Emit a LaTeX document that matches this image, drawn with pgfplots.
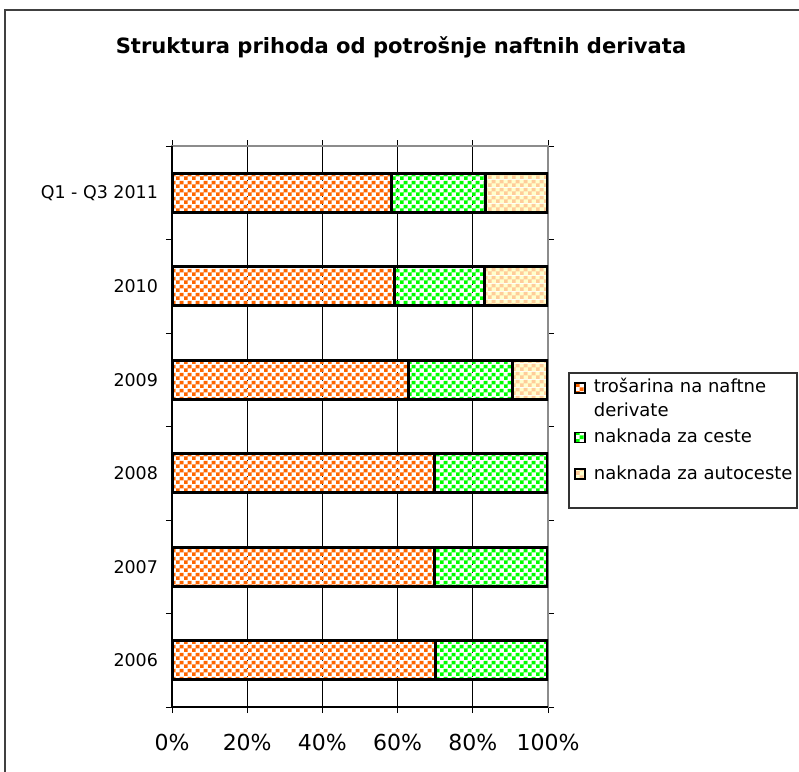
\documentclass[border=0pt]{standalone}
\usepackage{pgfplots}
\pgfplotsset{compat=1.18}
\usepackage{fontspec}
\setmainfont{DejaVu Sans}
\usetikzlibrary{patterns}

\definecolor{trosorange}{HTML}{FF6600}
\definecolor{cestegreen}{HTML}{00FF00}
\definecolor{autopeach}{HTML}{FFCC99}
\definecolor{autoyellow}{HTML}{FFFFCC}

% two-colour checkerboards, squares of 3pt
\pgfdeclarepatterninherentlycolored{chkorange}{\pgfpointorigin}{\pgfqpoint{6pt}{6pt}}{\pgfqpoint{6pt}{6pt}}{%
  \pgfsetfillcolor{white}\pgfpathrectangle{\pgfpointorigin}{\pgfqpoint{6pt}{6pt}}\pgfusepath{fill}%
  \pgfsetfillcolor{trosorange}%
  \pgfpathrectangle{\pgfpointorigin}{\pgfqpoint{3pt}{3pt}}%
  \pgfpathrectangle{\pgfqpoint{3pt}{3pt}}{\pgfqpoint{3pt}{3pt}}\pgfusepath{fill}}
\pgfdeclarepatterninherentlycolored{chkgreen}{\pgfpointorigin}{\pgfqpoint{6pt}{6pt}}{\pgfqpoint{6pt}{6pt}}{%
  \pgfsetfillcolor{white}\pgfpathrectangle{\pgfpointorigin}{\pgfqpoint{6pt}{6pt}}\pgfusepath{fill}%
  \pgfsetfillcolor{cestegreen}%
  \pgfpathrectangle{\pgfpointorigin}{\pgfqpoint{3pt}{3pt}}%
  \pgfpathrectangle{\pgfqpoint{3pt}{3pt}}{\pgfqpoint{3pt}{3pt}}\pgfusepath{fill}}
\pgfdeclarepatterninherentlycolored{chkpeach}{\pgfpointorigin}{\pgfqpoint{6pt}{6pt}}{\pgfqpoint{6pt}{6pt}}{%
  \pgfsetfillcolor{autoyellow}\pgfpathrectangle{\pgfpointorigin}{\pgfqpoint{6pt}{6pt}}\pgfusepath{fill}%
  \pgfsetfillcolor{autopeach}%
  \pgfpathrectangle{\pgfpointorigin}{\pgfqpoint{3pt}{3pt}}%
  \pgfpathrectangle{\pgfqpoint{3pt}{3pt}}{\pgfqpoint{3pt}{3pt}}\pgfusepath{fill}}

\begin{document}
\begin{tikzpicture}
\useasboundingbox (0pt,0pt) rectangle (599.25pt,-578.25pt);
% outer chart frame (cut at right and bottom)
\draw[line width=1pt, black!75] (3.75pt,-580pt) -- (3.75pt,-7.5pt) -- (602pt,-7.5pt);
\node[font=\bfseries\fontsize{15.8}{19}\selectfont] at (300.75pt,-35.25pt)
  {Struktura prihoda od potrošnje naftnih derivata};

\begin{axis}[
    at={(129pt,-530.25pt)}, anchor=south west,
    width=282pt, height=420.75pt, scale only axis,
    xbar stacked,
    bar width=29.25pt,
    xmin=0, xmax=100,
    ymin=-0.5, ymax=5.5,
    xtick={0,20,40,60,80,100},
    xticklabels={0\%,20\%,40\%,60\%,80\%,100\%},
    xticklabel style={font=\fontsize{16.5}{20}\selectfont, yshift=-12pt},
    xmajorgrids,
    major grid style={black, line width=0.6pt},
    ytick={-0.5,0.5,...,5.5},
    yticklabels={{},{},{},{},{},{},{}},
    extra y ticks={0,1,2,3,4,5},
    extra y tick labels={2006,2007,2008,2009,2010,Q1 - Q3 2011},
    extra y tick style={major tick length=0pt, grid=none,
      yticklabel style={font=\fontsize{13.1}{15}\selectfont, xshift=-7pt}},
    tick align=outside,
    major tick length=4.5pt,
    tick style={black, line width=0.6pt},
    axis line style={black!45, line width=0.8pt},
    after end axis/.code={
      \draw[black, line width=0.8pt] (rel axis cs:0,1) -- (rel axis cs:0,0) -- (rel axis cs:1,0);
    },
    legend image code/.code={\draw[#1, line width=1.2pt] (0pt,0pt) rectangle (7.5pt,7.5pt);},
    legend style={
      at={(rel axis cs:1.0691,0.5905)}, anchor=north west,
      draw=none, fill=none, inner sep=0pt,
      row sep=3.6pt, column sep=6pt,
      font=\fontsize{13.5}{18}\selectfont,
      nodes={inner sep=0pt, text depth=},
      cells={anchor=base west},
    },
  ]
  \addplot[draw=black, line width=2.3pt, pattern=chkorange]
    coordinates {(70.2,0) (69.9,1) (69.8,2) (62.9,3) (59.1,4) (58.5,5)};
  \addplot[draw=black, line width=2.3pt, pattern=chkgreen]
    coordinates {(29.8,0) (30.1,1) (30.2,2) (27.6,3) (24.1,4) (24.9,5)};
  \addplot[draw=black, line width=2.3pt, pattern=chkpeach]
    coordinates {(0,0) (0,1) (0,2) (9.5,3) (16.8,4) (16.6,5)};
  \legend{\begin{tabular}[t]{@{}l@{}}trošarina na naftne\\derivate\end{tabular},
    naknada za ceste\rule[-13.7pt]{0pt}{13.7pt},
    naknada za autoceste}
\end{axis}
% legend frame
\draw[line width=0.8pt, black!80] (426.75pt,-279.75pt) rectangle (597.75pt,-381pt);
\end{tikzpicture}
\end{document}
